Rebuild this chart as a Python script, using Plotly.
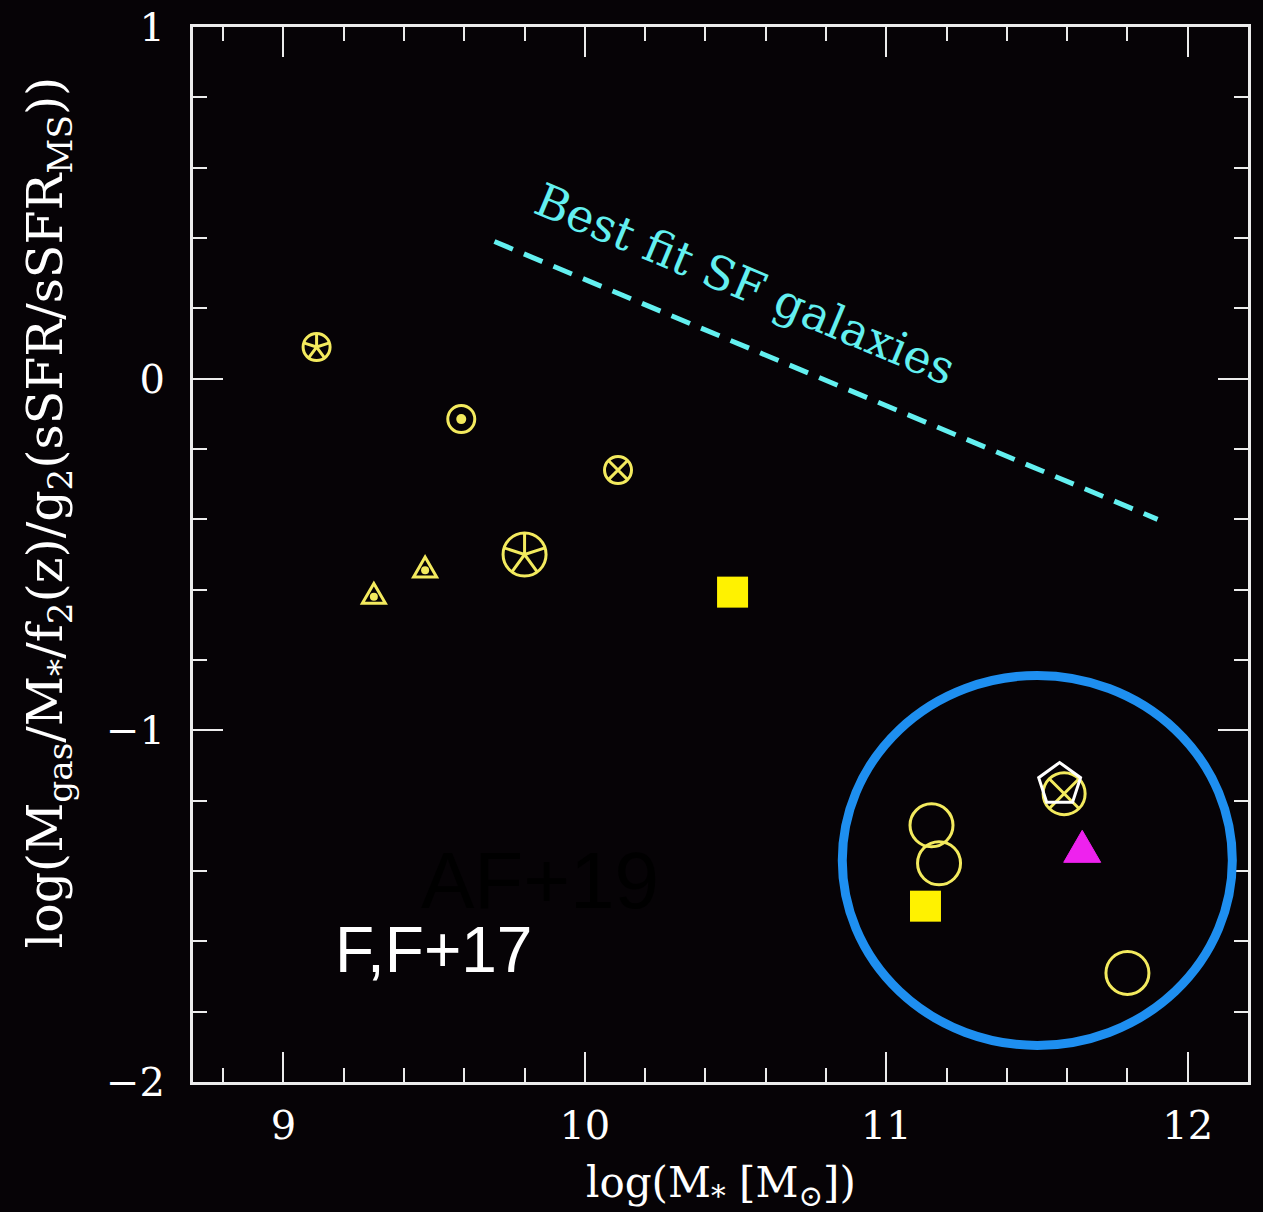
import math
import plotly.graph_objects as go

# --- data -------------------------------------------------------------
# circles with five spokes
spoke_x = [9.11, 9.80]
spoke_y = [0.09, -0.50]
spoke_size = [27, 43]

# circle with central dot
dot_x = [9.59]
dot_y = [-0.115]

# circles with a cross
cross_x = [10.11, 11.59]
cross_y = [-0.26, -1.18]
cross_size = [27, 42]

# open triangles with a dot
tri_x = [9.30, 9.47]
tri_y = [-0.62, -0.545]

# filled squares
sq_x = [10.49, 11.13]
sq_y = [-0.607, -1.50]

# plain open circles
ring_x = [11.15, 11.175, 11.80]
ring_y = [-1.27, -1.378, -1.69]

# white pentagon
pent_x = [11.575]
pent_y = [-1.154]

# magenta filled triangle
mag_x = [11.65]
mag_y = [-1.345]

# best-fit relation for star-forming galaxies
fit_x = [9.70, 11.90]
fit_y = [0.39, -0.40]

x_ticks = [9, 10, 11, 12]
y_ticks = [-2, -1, 0, 1]

# --- style -------------------------------------------------------------
BG = "#060306"
YEL = "#f3ea5e"
SQ = "#fff200"
CYAN = "#63f0f0"
FRAME = "#ececec"
SERIF = "DejaVu Serif"

fig = go.Figure()

fig.add_trace(go.Scatter(
    x=fit_x, y=fit_y, mode="lines",
    line=dict(color=CYAN, width=5, dash="20px,12px"),
    hoverinfo="skip", showlegend=False))


def ring_trace(xv, yv, size, symbol="circle-open", color=YEL):
    return go.Scatter(
        x=[xv], y=[yv], mode="markers", opacity=1,
        marker=dict(symbol=symbol, size=size, color=color, opacity=1,
                    line=dict(width=3, color=color)),
        showlegend=False)


for xv, yv, s in zip(spoke_x, spoke_y, spoke_size):
    fig.add_trace(ring_trace(xv, yv, s))

for xv, yv in zip(dot_x, dot_y):
    fig.add_trace(ring_trace(xv, yv, 27))
fig.add_trace(go.Scatter(
    x=dot_x, y=dot_y, mode="markers",
    marker=dict(symbol="circle", size=10, color=YEL, line=dict(width=0)),
    showlegend=False))

for xv, yv, s in zip(cross_x, cross_y, cross_size):
    fig.add_trace(ring_trace(xv, yv, s, symbol="circle-x-open"))

fig.add_trace(go.Scatter(
    x=tri_x, y=tri_y, mode="markers",
    marker=dict(symbol="circle", size=8, color=YEL, line=dict(width=0)),
    showlegend=False))

fig.add_trace(go.Scatter(
    x=sq_x, y=sq_y, mode="markers",
    marker=dict(symbol="square", size=31, color=SQ, line=dict(width=0)),
    showlegend=False))

for xv, yv in zip(ring_x, ring_y):
    fig.add_trace(ring_trace(xv, yv, 43))

for xv, yv in zip(pent_x, pent_y):
    fig.add_trace(ring_trace(xv, yv, 44, symbol="pentagon-open",
                             color="white"))

# --- pixel-sized glyph parts anchored on the data points ------------
shapes = []


def spokes_path(radius):
    parts = []
    for ang in (90, 18, -54, -126, 162):
        a = math.radians(ang)
        parts.append(f"M0,0 L{radius*math.cos(a):.2f},{radius*math.sin(a):.2f}")
    return " ".join(parts)


for xv, yv, s in zip(spoke_x, spoke_y, spoke_size):
    shapes.append(dict(type="path", xref="x", yref="y",
                       xsizemode="pixel", ysizemode="pixel",
                       xanchor=xv, yanchor=yv, path=spokes_path(s / 2),
                       line=dict(color=YEL, width=3), layer="above"))


def triangle_path(side):
    h = side * math.sqrt(3) / 2
    return (f"M0,{2*h/3:.2f} L{-side/2:.2f},{-h/3:.2f} "
            f"L{side/2:.2f},{-h/3:.2f} Z")


for xv, yv in zip(tri_x, tri_y):
    shapes.append(dict(type="path", xref="x", yref="y",
                       xsizemode="pixel", ysizemode="pixel",
                       xanchor=xv, yanchor=yv, path=triangle_path(23),
                       line=dict(color=YEL, width=3), layer="above"))

for xv, yv in zip(mag_x, mag_y):
    shapes.append(dict(type="path", xref="x", yref="y",
                       xsizemode="pixel", ysizemode="pixel",
                       xanchor=xv, yanchor=yv, path=triangle_path(37),
                       fillcolor="#ee22ee", line=dict(color="#ee22ee", width=1),
                       layer="above"))

# highlighted massive systems
shapes.append(dict(type="circle", xref="x", yref="y",
                   x0=10.854, x1=12.148, y0=-1.896, y1=-0.844,
                   line=dict(color="#1e8ff0", width=9), layer="above"))

annotations = [
    dict(text="Best fit SF galaxies", x=10.53, y=0.268, xref="x", yref="y",
         showarrow=False, textangle=22.7,
         font=dict(family=SERIF, size=46, color=CYAN)),
    dict(text="AF+19", x=9.45, y=-1.56, xref="x", yref="y",
         xanchor="left", yanchor="bottom", showarrow=False,
         font=dict(family="Liberation Sans", size=80, color="#000000")),
    dict(text="F,F+17", x=9.163, y=-1.624, xref="x", yref="y",
         xanchor="left", yanchor="middle", showarrow=False,
         font=dict(family="Liberation Sans", size=64, color="white")),
    dict(text="log(M<sub>*</sub> [M<sub>⊙</sub>])", x=0.5, y=0,
         xref="paper", yref="paper", xanchor="center", yanchor="middle",
         yshift=-103, showarrow=False,
         font=dict(family=SERIF, size=42, color="white")),
    dict(text="log(M<sub>gas</sub>/M<sub>*</sub>/f<sub>2</sub>(z)/g<sub>2</sub>"
              "(sSFR/sSFR<sub>MS</sub>))",
         x=0, y=0.5, xref="paper", yref="paper", xanchor="center",
         yanchor="middle", xshift=-145, yshift=42, textangle=-90,
         showarrow=False, font=dict(family=SERIF, size=49, color="white")),
]

axis_common = dict(
    automargin=False,
    showgrid=False, zeroline=False, showline=True, linewidth=3,
    linecolor=FRAME, mirror="allticks", ticks="inside", ticklen=30,
    tickwidth=2, tickcolor=FRAME,
    tickfont=dict(family=SERIF, size=40, color="white"),
    minor=dict(ticks="inside", ticklen=14, tickwidth=2, tickcolor=FRAME,
               dtick=0.2, showgrid=False),
)

fig.update_xaxes(range=[8.7, 12.2], tickvals=x_ticks,
                 ticklabelstandoff=6, **axis_common)
fig.update_yaxes(range=[-2, 1], tickvals=y_ticks,
                 ticklabelstandoff=17, **axis_common)

fig.update_layout(
    width=1263, height=1212, autosize=False,
    margin=dict(l=193, r=15, t=27, b=130, autoexpand=False),
    paper_bgcolor=BG, plot_bgcolor=BG,
    shapes=shapes, annotations=annotations, showlegend=False,
)

fig.write_html("out.html")
